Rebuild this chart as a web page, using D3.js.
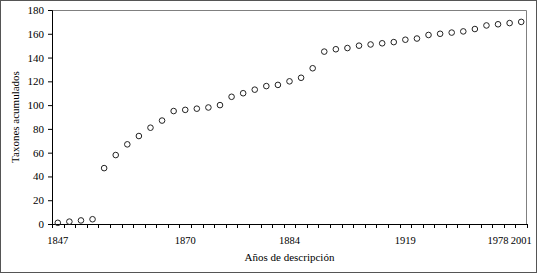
<!DOCTYPE html>
<html>
<head>
<meta charset="utf-8">
<script src="https://cdn.jsdelivr.net/npm/d3@7"></script>
<style>
  html, body { margin: 0; padding: 0; background: #fff; }
  svg { display: block; font-family: "Liberation Serif", "Times New Roman", serif; }
</style>
</head>
<body>
<div id="chart"></div>
<script>
// === Data: accumulated taxa per description year (41 steps) ===
const taxones = [
  1, 2, 3, 4, 47, 58, 67, 74, 81, 87,
  95, 96, 97, 98, 100, 107, 110, 113, 116, 117,
  120, 123, 131, 145, 147, 148, 150, 151, 152, 153,
  155, 156, 159, 160, 161, 162, 164, 167, 168, 169,
  170
];
// only a few years are labelled on the axis (by category index)
const yearLabels = [
  { i: 0, label: "1847" },
  { i: 11, label: "1870" },
  { i: 20, label: "1884" },
  { i: 30, label: "1919" },
  { i: 38, label: "1978" },
  { i: 40, label: "2001" }
];
const yTicks = [0, 20, 40, 60, 80, 100, 120, 140, 160, 180];

// === Dimensions ===
const width = 537;
const height = 273;
const margin = { top: 10, right: 10, bottom: 49, left: 52 };
const innerW = width - margin.left - margin.right;
const innerH = height - margin.top - margin.bottom;

const svg = d3.select("#chart")
  .append("svg")
  .attr("width", width)
  .attr("height", height);

// outer frame
svg.append("rect")
  .attr("x", 0.5).attr("y", 0.5)
  .attr("width", width - 1).attr("height", height - 1)
  .attr("fill", "none")
  .attr("stroke", "#555");

const g = svg.append("g")
  .attr("transform", `translate(${margin.left},${margin.top})`);

// === Scales ===
const x = d3.scaleBand()
  .domain(d3.range(taxones.length))
  .range([0, innerW]);

const y = d3.scaleLinear()
  .domain([0, 180])
  .range([innerH, 0]);

// plot area border (top + right)
g.append("path")
  .attr("d", `M0,0.5H${innerW - 0.5}V${innerH}`)
  .attr("fill", "none")
  .attr("stroke", "#808080");

// === Y axis ===
const yAxis = g.append("g")
  .call(d3.axisLeft(y).tickValues(yTicks).tickSize(4).tickPadding(4));
yAxis.select(".domain").attr("stroke", "#000");
yAxis.selectAll("text")
  .attr("font-size", 11)
  .attr("font-family", "Liberation Serif, serif")
  .attr("fill", "#000");

// === X axis: ticks at category boundaries ===
const xAxis = g.append("g").attr("transform", `translate(0,${innerH})`);
xAxis.append("line")
  .attr("x1", 0).attr("x2", innerW)
  .attr("y1", 0.5).attr("y2", 0.5)
  .attr("stroke", "#000");
xAxis.selectAll("line.tick")
  .data(d3.range(taxones.length + 1))
  .enter()
  .append("line")
  .attr("class", "tick")
  .attr("x1", (d) => Math.round(d * x.step()) + 0.5)
  .attr("x2", (d) => Math.round(d * x.step()) + 0.5)
  .attr("y1", 0)
  .attr("y2", 4)
  .attr("stroke", "#000");
xAxis.selectAll("text")
  .data(yearLabels)
  .enter()
  .append("text")
  .attr("x", (d) => x(d.i) + x.bandwidth() / 2)
  .attr("y", 20)
  .attr("text-anchor", "middle")
  .attr("font-size", 10.5)
  .attr("fill", "#000")
  .text((d) => d.label);

// === Points ===
g.selectAll("circle")
  .data(taxones)
  .enter()
  .append("circle")
  .attr("cx", (d, i) => x(i) + x.bandwidth() / 2)
  .attr("cy", (d) => y(d))
  .attr("r", 2.8)
  .attr("fill", "none")
  .attr("stroke", "#222")
  .attr("stroke-width", 1);

// === Axis titles ===
svg.append("text")
  .attr("transform", `translate(19,${margin.top + innerH / 2}) rotate(-90)`)
  .attr("text-anchor", "middle")
  .attr("font-size", 11)
  .text("Taxones acumulados");

svg.append("text")
  .attr("x", margin.left + innerW / 2)
  .attr("y", 261)
  .attr("text-anchor", "middle")
  .attr("font-size", 11)
  .text("Años de descripción");
</script>
</body>
</html>
